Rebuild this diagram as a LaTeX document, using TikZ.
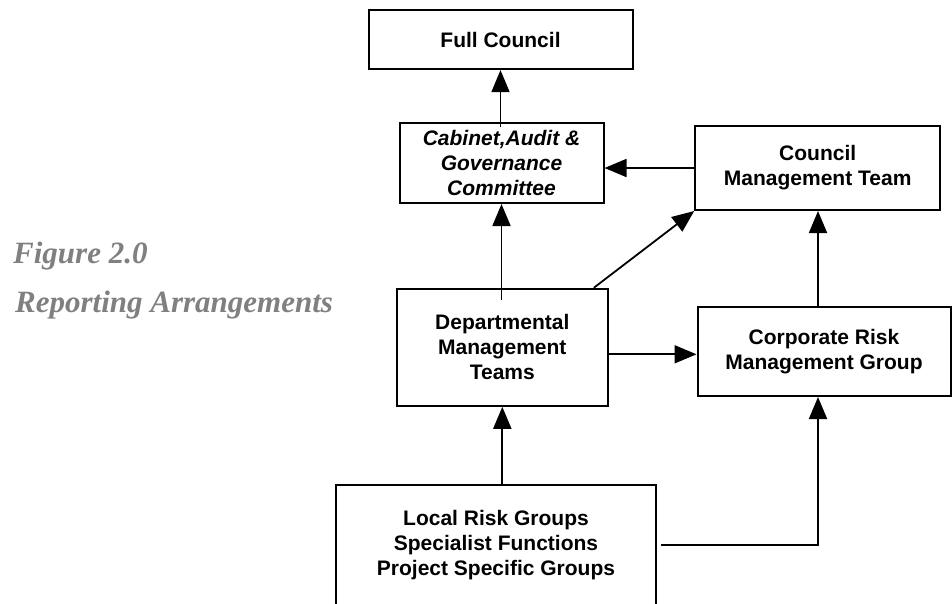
\documentclass[tikz,border=0pt]{standalone}
\usepackage{fontspec}
\setmainfont{Liberation Serif}
\setsansfont{Liberation Sans}
\usetikzlibrary{arrows.meta}

\tikzset{
  box/.style={draw, line width=2pt, rectangle, align=center, inner sep=0pt,
    font=\sffamily\bfseries\fontsize{21}{25}\selectfont},
  link/.style={line width=1.8pt, -{Triangle[width=18pt,length=22pt]}},
  caption/.style={anchor=base west, inner sep=0pt, text=black!50,
    font=\bfseries\itshape\fontsize{31}{37}\selectfont}
}

\begin{document}
\begin{tikzpicture}[x=1pt,y=-1pt]
\useasboundingbox (0,0) rectangle (952,603);
\node[caption] (fig) at (13,263) {Figure 2.0};
\node[caption] (rep) at (15,312) {Reporting Arrangements};
\node[box, minimum width=264pt, minimum height=59pt] (full) at (500.5,39.6) {Full Council};
\node[box, minimum width=204pt, minimum height=80pt] (cab) at (501.5,163) {\itshape Cabinet,Audit \&\\\itshape Governance\\\itshape Committee};
\node[box, minimum width=245pt, minimum height=84pt] (cmt) at (817.7,168) {Council\\Management Team};
\node[box, minimum width=211pt, minimum height=117pt] (dept) at (502.3,347.3) {Departmental\\Management\\Teams};
\node[box, minimum width=253pt, minimum height=89pt] (corp) at (824,351.5) {Corporate Risk\\Management Group};
\node[box, minimum width=320pt, minimum height=120pt] (local) at (496,545) {Local Risk Groups\\Specialist Functions\\Project Specific Groups};
\coordinate (rcol) at (818,0);
\draw[link] ([yshift=-5pt]cab.north -| full.south) -- (full.south);
\draw[link] (cmt.west) -- (cmt.west -| cab.east);
\draw[link] ([yshift=-12pt]dept.north -| cab.south) -- (cab.south);
\draw[link] ([xshift=-15pt]dept.north east) -- (cmt.south west);
\draw[link] ([yshift=-7pt]dept.east) -- ([yshift=-7pt]dept.east -| corp.west);
\draw[link] (rcol |- corp.north) -- (rcol |- cmt.south);
\draw[link] (local.north -| dept.south) -- (dept.south);
\draw[link] ([xshift=4pt]local.east) -| (rcol |- corp.south);
\end{tikzpicture}
\end{document}
